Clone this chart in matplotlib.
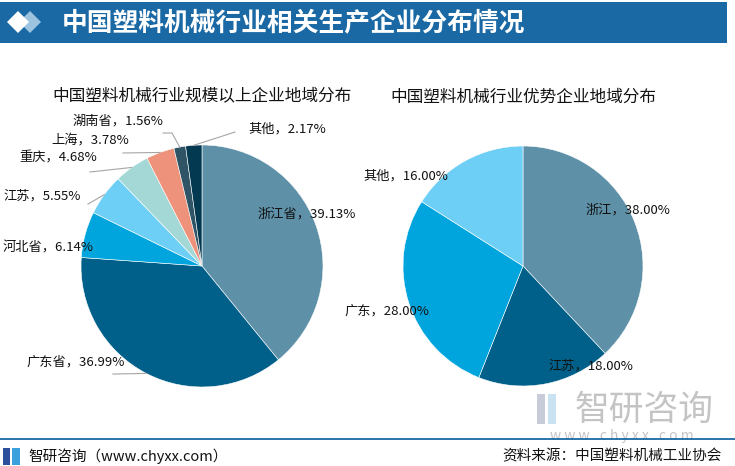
import matplotlib
matplotlib.use("Agg")
import matplotlib.pyplot as plt
from matplotlib.patches import Polygon, Rectangle
import numpy as np

plt.rcParams['font.family'] = ['Noto Sans CJK SC', 'DejaVu Sans']

# data
title = "中国塑料机械行业相关生产企业分布情况"
left_title = "中国塑料机械行业规模以上企业地域分布"
left_names = ["浙江省", "广东省", "河北省", "江苏", "重庆", "上海", "湖南省", "其他"]
left_values = [39.13, 36.99, 6.14, 5.55, 4.68, 3.78, 1.56, 2.17]
right_title = "中国塑料机械行业优势企业地域分布"
right_names = ["浙江", "江苏", "广东", "其他"]
right_values = [38.00, 18.00, 28.00, 16.00]
source_text = "资料来源：中国塑料机械工业协会"
brand_text = "智研咨询（www.chyxx.com）"

left_colors = ["#5e91a8", "#00608a", "#00a5de", "#6dcff6",
               "#a3d8d6", "#ef927b", "#2f5466", "#033a51"]
right_colors = ["#5e91a8", "#00608a", "#00a5de", "#6dcff6"]

# label layout in pie units (text position, alignment, leader start or None)
left_layout = [
    ((0.46, 0.43), "left", None),
    ((-0.64, -0.79), "right", [(-0.736, -0.893)]),
    ((-0.90, 0.15), "right", None),
    ((-1.00, 0.58), "right", [(-0.942, 0.512)]),
    ((-0.87, 0.89), "right", [(-0.926, 0.777)]),
    ((-0.60, 1.04), "right", [(-0.653, 0.934)]),
    ((-0.32, 1.20), "right", [(-0.322, 1.099), (-0.248, 1.099)]),
    ((0.38, 1.13), "left", [(0.273, 1.107)]),
]
right_layout = [
    ((0.52, 0.47), "left", None),
    ((0.21, -0.83), "left", None),
    ((-0.78, -0.375), "right", None),
    ((-0.62, 0.75), "right", None),
]

W, H = 735, 466
fig = plt.figure(figsize=(W / 100, H / 100), dpi=100)
fig.patch.set_facecolor("white")


def px(x, y):
    return x / W, 1 - y / H


# header bar
fig.add_artist(Rectangle(px(0, 43), 727 / W, 41 / H, transform=fig.transFigure,
                         facecolor="#1a69a4", edgecolor="none", zorder=1))
fig.add_artist(Polygon([px(30, 11), px(41, 22), px(30, 33), px(19, 22)], closed=True,
                       transform=fig.transFigure, facecolor="#9cc3e0", edgecolor="none", zorder=2))
fig.add_artist(Polygon([px(18, 11), px(29, 22), px(18, 33), px(7, 22)], closed=True,
                       transform=fig.transFigure, facecolor="white", edgecolor="none", zorder=3))
fig.text(*px(62, 23), title, fontsize=18.5, fontweight="bold", color="white",
         ha="left", va="center", zorder=3)

# bottom right logo watermark (drawn first, behind pies)
fig.add_artist(Rectangle(px(537, 424), 8 / W, 30 / H, transform=fig.transFigure,
                         facecolor="#c7ccd8", edgecolor="none", zorder=-1))
fig.add_artist(Rectangle(px(548, 424), 8 / W, 30 / H, transform=fig.transFigure,
                         facecolor="#c9e2f2", edgecolor="none", zorder=-1))
fig.text(*px(644, 410), "智研咨询", fontsize=25, color="#c4c4c4", ha="center",
         va="center", zorder=-1)
fig.text(*px(622, 436), "w w w . c h y x x . c o m", fontsize=10, color="#c4c4c4",
         ha="center", va="center", zorder=-1)


def draw_pie(rect, names, values, colors, layout, subtitle):
    ax = fig.add_axes(rect)
    wedges, _ = ax.pie(values, colors=colors, startangle=90, counterclock=False,
                       wedgeprops=dict(edgecolor="white", linewidth=0.4))
    ax.set_xlim(-1, 1)
    ax.set_ylim(-1, 1)
    ax.set_aspect("auto")
    ax.axis("off")
    total = sum(values)
    cum = 0
    for name, v, (pos, ha, lead) in zip(names, values, layout):
        mid = 90 - (cum + v / 2) / total * 360
        cum += v
        ax.text(pos[0], pos[1], f"{name}，{v:.2f}%", fontsize=9.5, ha=ha, va="center",
                color="#111111", clip_on=False, zorder=5)
        if lead:
            edge = (np.cos(np.radians(mid)), np.sin(np.radians(mid)))
            pts = lead + [edge]
            ax.plot([p[0] for p in pts], [p[1] for p in pts], color="#a6a6a6",
                    lw=0.8, clip_on=False, zorder=4)
    ax.text(0, 1.41, subtitle, fontsize=12, ha="center", va="center",
            color="#111111", clip_on=False)
    return ax


draw_pie([81 / W, 79 / H, 242 / W, 242 / H], left_names, left_values,
         left_colors, left_layout, left_title)
draw_pie([403 / W, 80 / H, 240 / W, 240 / H], right_names, right_values,
         right_colors, right_layout, right_title)

# footer
fig.add_artist(plt.Line2D([0, 1], [1 - 439 / H, 1 - 439 / H], transform=fig.transFigure,
                          color="#1a69a4", lw=1.3))
fig.add_artist(Rectangle(px(3, 465), 7 / W, 17 / H, transform=fig.transFigure,
                         facecolor="#2b4f9a", edgecolor="none"))
fig.add_artist(Rectangle(px(12, 465), 8 / W, 17 / H, transform=fig.transFigure,
                         facecolor="#3aa1dc", edgecolor="none"))
fig.text(*px(28, 456), brand_text, fontsize=10.5, color="#111111", ha="left", va="center")
fig.text(*px(722, 456), source_text, fontsize=10.5, color="#111111", ha="right", va="center")

fig.savefig("out.png", dpi=100)
